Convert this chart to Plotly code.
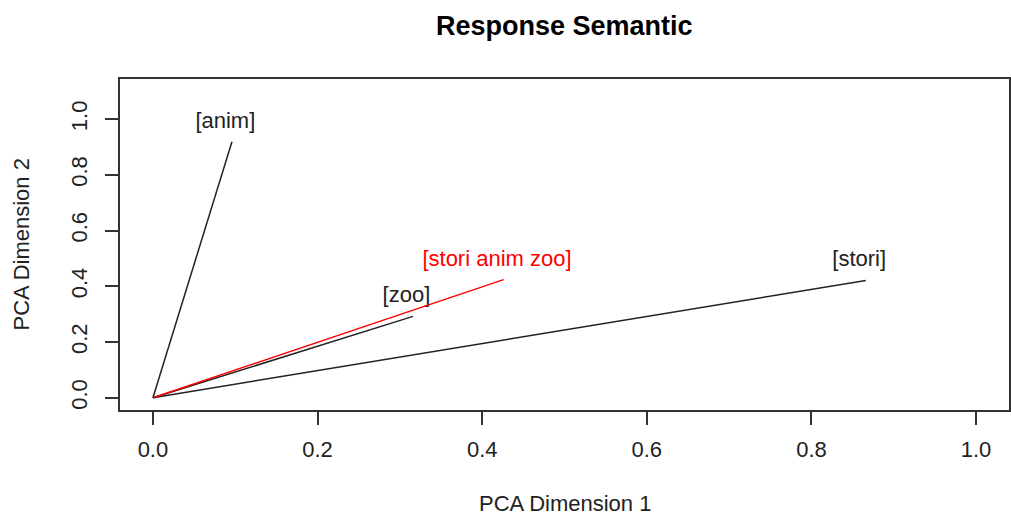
import plotly.graph_objects as go

# Term vectors (PCA coordinates)
term_labels = ["[anim]", "[stori]", "[zoo]"]
term_x = [0.096, 0.866, 0.316]
term_y = [0.919, 0.421, 0.292]

# Query / document vector
doc_labels = ["[stori anim zoo]"]
doc_x = [0.426]
doc_y = [0.424]

x_ticks = [0.0, 0.2, 0.4, 0.6, 0.8, 1.0]
y_ticks = [0.0, 0.2, 0.4, 0.6, 0.8, 1.0]

FONT = "Liberation Sans, Arial, sans-serif"
INK = "#222222"
LAB_DX, LAB_DY = -0.008, 0.07

fig = go.Figure()

for lab, x, y in zip(term_labels, term_x, term_y):
    fig.add_trace(go.Scatter(x=[0, x], y=[0, y], mode="lines",
                             line=dict(color=INK, width=1.5), showlegend=False,
                             hoverinfo="skip"))
    fig.add_trace(go.Scatter(x=[x + LAB_DX], y=[y + LAB_DY], mode="text", text=[lab],
                             textposition="middle center",
                             textfont=dict(family=FONT, size=22, color=INK),
                             showlegend=False, hoverinfo="skip"))

for lab, x, y in zip(doc_labels, doc_x, doc_y):
    fig.add_trace(go.Scatter(x=[0, x], y=[0, y], mode="lines",
                             line=dict(color="#ff0000", width=1.5), showlegend=False,
                             hoverinfo="skip"))
    fig.add_trace(go.Scatter(x=[x + LAB_DX], y=[y + LAB_DY], mode="text", text=[lab],
                             textposition="middle center",
                             textfont=dict(family=FONT, size=22, color="#ff0000"),
                             showlegend=False, hoverinfo="skip"))

axis_common = dict(showgrid=False, zeroline=False, showline=True, mirror=True,
                   linecolor="#333333", linewidth=1.5, ticks="outside", ticklen=13,
                   tickwidth=1.5, tickcolor="#333333", automargin=False,
                   tickfont=dict(family=FONT, size=22, color=INK))

fig.update_xaxes(range=[-0.04, 1.04], tickvals=x_ticks,
                 ticktext=[f"{v:.1f}" for v in x_ticks], ticklabelstandoff=6, **axis_common)
fig.update_yaxes(range=[-0.044, 1.144], tickvals=y_ticks,
                 ticktext=[f"{v:.1f}" for v in y_ticks], tickangle=-90,
                 ticklabelstandoff=9, **axis_common)

fig.update_layout(
    width=1011, height=515,
    margin=dict(l=120, r=2, t=79, b=105),
    plot_bgcolor="white", paper_bgcolor="white",
    font=dict(family=FONT, color=INK),
    annotations=[
        dict(text="<b>Response Semantic</b>", xref="paper", yref="paper",
             x=0.5, y=1, yshift=53, xanchor="center", yanchor="middle", showarrow=False,
             font=dict(family=FONT, size=27, color="#000000")),
        dict(text="PCA Dimension 1", xref="paper", yref="paper", x=0.5, y=0,
             yshift=-93, xanchor="center", yanchor="middle", showarrow=False,
             font=dict(family=FONT, size=22, color=INK)),
        dict(text="PCA Dimension 2", xref="paper", yref="paper", x=0, y=0.5,
             xshift=-99, xanchor="center", yanchor="middle", textangle=-90,
             showarrow=False, font=dict(family=FONT, size=22, color=INK)),
    ],
)

fig.write_html("out.html", config={"displayModeBar": False},
               post_script="document.body.style.margin='0';document.body.style.overflow='hidden';")
